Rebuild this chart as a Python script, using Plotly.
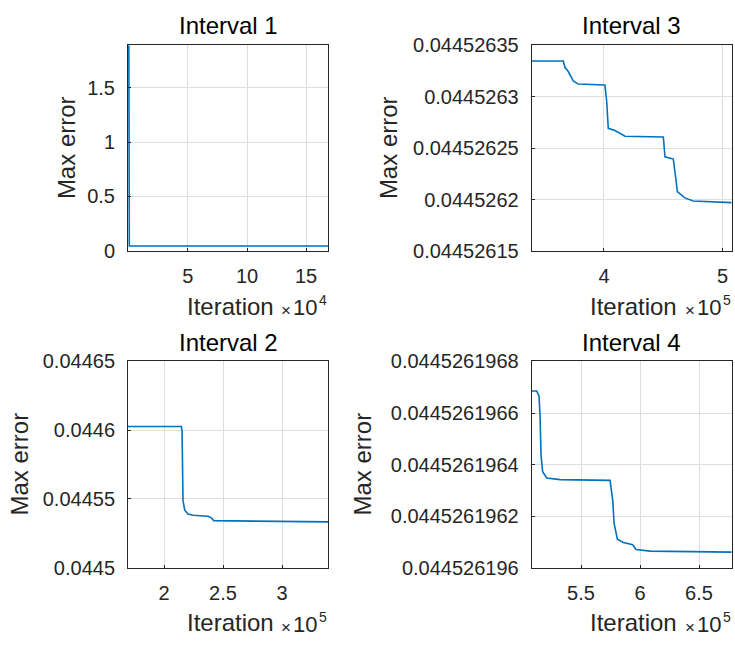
import plotly.graph_objects as go

# Maximum error recorded against iteration count, one run split into four intervals
int1_iter = [1, 40, 400, 5000, 60000, 168600]
int1_err = [1.888, 0.0500, 0.04475, 0.04462, 0.044605, 0.044603]

int2_iter = [169500, 214700, 215300, 216100, 217500, 220300, 224600,
             237300, 240100, 242100, 258500, 339000]
int2_err = [0.0446027, 0.0446027, 0.0445993, 0.0445488, 0.0445420, 0.0445390,
            0.0445381, 0.0445374, 0.0445362, 0.0445342, 0.0445340, 0.0445333]

int3_iter = [339100, 365700, 367100, 369900, 374100, 378300, 400800, 402300,
             403600, 409300, 417700, 450000, 451400, 458400, 460700, 461800,
             468200, 475200, 507600]
int3_err = [0.0445263347, 0.0445263347, 0.0445263286, 0.0445263245, 0.0445263153,
            0.0445263123, 0.0445263114, 0.0445262954, 0.0445262692, 0.0445262671,
            0.0445262615, 0.0445262609, 0.0445262415, 0.0445262394, 0.0445262185,
            0.0445262078, 0.0445262016, 0.0445261985, 0.0445261970]

int4_iter = [508200, 512500, 514400, 515300, 516100, 517500, 520900, 532200,
             574600, 576900, 578000, 580800, 585900, 593800, 596600, 608500, 677700]
int4_err = [0.0445261966852, 0.0445261966852, 0.0445261966665, 0.0445261965851,
            0.0445261964351, 0.0445261963724, 0.0445261963477, 0.0445261963413,
            0.0445261963387, 0.0445261962599, 0.0445261961725, 0.0445261961099,
            0.0445261960975, 0.0445261960889, 0.0445261960701, 0.0445261960638,
            0.0445261960600]

# Axis limits and tick labels
int1_xrange = [-700, 168800]
int1_yrange = [0, 1.888]
int1_xticks = [50000, 100000, 150000]
int1_xlabels = ["5", "10", "15"]
int1_yticks = [0, 0.5, 1, 1.5]
int1_ylabels = ["0", "0.5", "1", "1.5"]

int2_xrange = [169500, 339200]
int2_yrange = [0.0445, 0.04465]
int2_xticks = [200000, 250000, 300000]
int2_xlabels = ["2", "2.5", "3"]
int2_yticks = [0.0445, 0.04455, 0.0446, 0.04465]
int2_ylabels = ["0.0445", "0.04455", "0.0446", "0.04465"]

int3_xrange = [339100, 507600]
int3_yrange = [0.04452615, 0.04452635]
int3_xticks = [400000, 500000]
int3_xlabels = ["4", "5"]
int3_yticks = [0.04452615, 0.0445262, 0.04452625, 0.0445263, 0.04452635]
int3_ylabels = ["0.04452615", "0.0445262", "0.04452625", "0.0445263", "0.04452635"]

int4_xrange = [508200, 677700]
int4_yrange = [0.044526196, 0.0445261968]
int4_xticks = [550000, 600000, 650000]
int4_xlabels = ["5.5", "6", "6.5"]
int4_yticks = [0.044526196, 0.0445261962, 0.0445261964, 0.0445261966, 0.0445261968]
int4_ylabels = ["0.044526196", "0.0445261962", "0.0445261964",
                "0.0445261966", "0.0445261968"]

titles = ["Interval 1", "Interval 3", "Interval 2", "Interval 4"]
exponents = ["4", "5", "5", "5"]

W, H = 735, 653
LINE_BLUE = "#0072BD"
INK = "#262626"
GRID = "#dedede"
FONT = "Liberation Sans, Arial, Helvetica, sans-serif"

# panel boxes in pixels: (left, right, top, bottom)
boxes = [(128.0, 328.3, 35.5, 248.3),
         (531.7, 731.7, 35.5, 248.3),
         (128.0, 328.3, 362.7, 576.0),
         (531.7, 731.7, 362.7, 576.0)]
ylabel_x = [66, 388, 20, 363]

panels = [
    (int1_iter, int1_err, int1_xrange, int1_yrange, int1_xticks, int1_xlabels, int1_yticks, int1_ylabels),
    (int3_iter, int3_err, int3_xrange, int3_yrange, int3_xticks, int3_xlabels, int3_yticks, int3_ylabels),
    (int2_iter, int2_err, int2_xrange, int2_yrange, int2_xticks, int2_xlabels, int2_yticks, int2_ylabels),
    (int4_iter, int4_err, int4_xrange, int4_yrange, int4_xticks, int4_xlabels, int4_yticks, int4_ylabels),
]

fig = go.Figure()
annotations = []
layout_axes = {}


def px_x(v):
    return v / W


def px_y(v):
    return 1 - v / H


def label(text, x, y, size, color=INK, angle=0):
    return dict(text=text, x=px_x(x), y=px_y(y), xref="paper", yref="paper",
                showarrow=False, xanchor="center", yanchor="middle",
                textangle=angle, font=dict(family=FONT, size=size, color=color))


for i, (xs, ys, xr, yr, xt, xl, yt, yl) in enumerate(panels):
    n = "" if i == 0 else str(i + 1)
    left, right, top, bottom = boxes[i]
    fig.add_trace(go.Scatter(x=xs, y=ys, mode="lines",
                             line=dict(color=LINE_BLUE, width=1.6),
                             xaxis="x" + n, yaxis="y" + n, showlegend=False,
                             hoverinfo="skip"))
    common = dict(showline=True, mirror=True, linecolor=INK, linewidth=1,
                  showgrid=True, gridcolor=GRID, gridwidth=1, zeroline=False,
                  ticks="inside", ticklen=3, tickcolor=INK,
                  tickfont=dict(family=FONT, size=20, color=INK),
                  tickmode="array")
    layout_axes["xaxis" + n] = dict(common, domain=[px_x(left), px_x(right)],
                                    range=xr, tickvals=xt, ticktext=xl,
                                    anchor="y" + n, ticklabelstandoff=7)
    layout_axes["yaxis" + n] = dict(common, domain=[px_y(bottom), px_y(top)],
                                    range=yr, tickvals=yt, ticktext=yl,
                                    anchor="x" + n, ticklabelstandoff=8)
    cx = (left + right) / 2
    annotations.append(label(titles[i], cx, top - 20, 24, color="#000000"))
    annotations.append(label("Max error", ylabel_x[i], (top + bottom) / 2, 24, angle=-90))
    annotations.append(label("Iteration", cx + 2, bottom + 57, 24))
    # x10^n multiplier of the x tick labels
    annotations.append(label("×", right - 42, bottom + 62, 17))
    annotations.append(label("10", right - 23, bottom + 59, 22))
    annotations.append(label(exponents[i], right - 5, bottom + 51, 14))

fig.update_layout(width=W, height=H, margin=dict(l=0, r=0, t=0, b=0),
                  paper_bgcolor="white", plot_bgcolor="white",
                  annotations=annotations, **layout_axes)

fig.write_html("out.html")
